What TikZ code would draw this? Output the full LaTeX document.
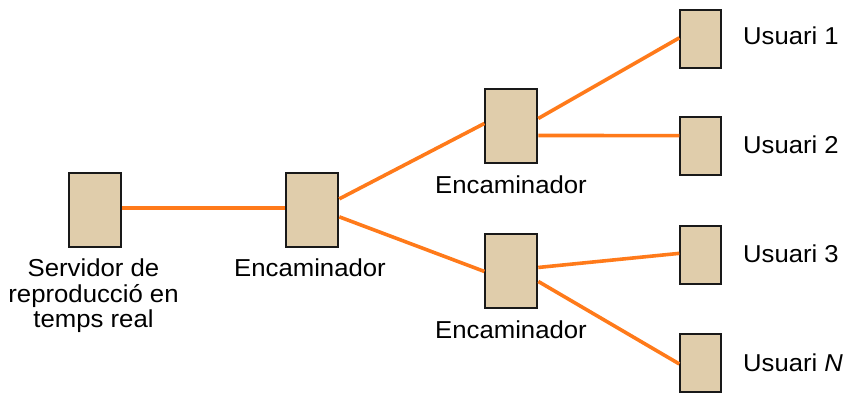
\documentclass[tikz,border=0pt]{standalone}
\usepackage{fontspec}
\setmainfont[FakeStretch=1.05]{Liberation Sans}
\tikzset{
  x=1bp,y=-1bp,
  boxbase/.style={draw=black!90,fill=boxtan,line width=1.9bp,inner sep=0pt,anchor=north west},
  bigbox/.style={boxbase,minimum width=52bp,minimum height=74bp},
  smallbox/.style={boxbase,minimum width=40.4bp,minimum height=58bp},
  link/.style={draw=linkorange,line width=3.6bp},
  lab/.style={font=\fontsize{24.6}{25.5}\selectfont,align=center,inner sep=0pt,text=black},
  userlab/.style={lab,font=\fontsize{24.5}{27}\selectfont,anchor=base west}
}
\definecolor{boxtan}{HTML}{E0CDAB}
\definecolor{linkorange}{HTML}{FF7A1A}
\begin{document}
\begin{tikzpicture}
\useasboundingbox (0,0) rectangle (845,392);
\node[bigbox] (srv) at (68.4,171.6) {};
\node[bigbox] (r0) at (285.4,171.6) {};
\node[bigbox] (r1) at (484.4,88.2) {};
\node[bigbox] (r2) at (484.4,233.2) {};
\node[smallbox] (u1) at (679.3,8.6) {};
\node[smallbox] (u2) at (679.3,116.1) {};
\node[smallbox] (u3) at (679.3,225.1) {};
\node[smallbox] (un) at (679.3,332.7) {};
\draw[link] ([yshift=1.7bp]srv.east) -- ([yshift=1.7bp]r0.west);
\draw[link] ([yshift=10.7bp]r0.east) -- ([yshift=2.7bp]r1.west);
\draw[link] ([yshift=-7.3bp]r0.east) -- ([yshift=-0.3bp]r2.west);
\draw[link] ([yshift=7.7bp]r1.east) -- ([yshift=0.7bp]u1.west);
\draw[link] ([yshift=-9.3bp]r1.east) -- ([yshift=10.4bp]u2.west);
\draw[link] ([yshift=3.7bp]r2.east) -- ([yshift=1.7bp]u3.west);
\draw[link] ([yshift=-10.3bp]r2.east) -- ([yshift=-1.3bp]un.west);
\node[lab,anchor=north] (srvlab) at (93.5,259) {Servidor de\\reproducció en\\temps real};
\node[lab,anchor=base] (r0lab) at (310,276) {Encaminador};
\node[lab,anchor=base] (r1lab) at (511,193) {Encaminador};
\node[lab,anchor=base] (r2lab) at (511,338) {Encaminador};
\node[userlab] (u1lab) at (743,44) {Usuari 1};
\node[userlab] (u2lab) at (743,153) {Usuari 2};
\node[userlab] (u3lab) at (743,262) {Usuari 3};
\node[userlab] (unlab) at (743,371) {Usuari \textit{N}};
\end{tikzpicture}
\end{document}
